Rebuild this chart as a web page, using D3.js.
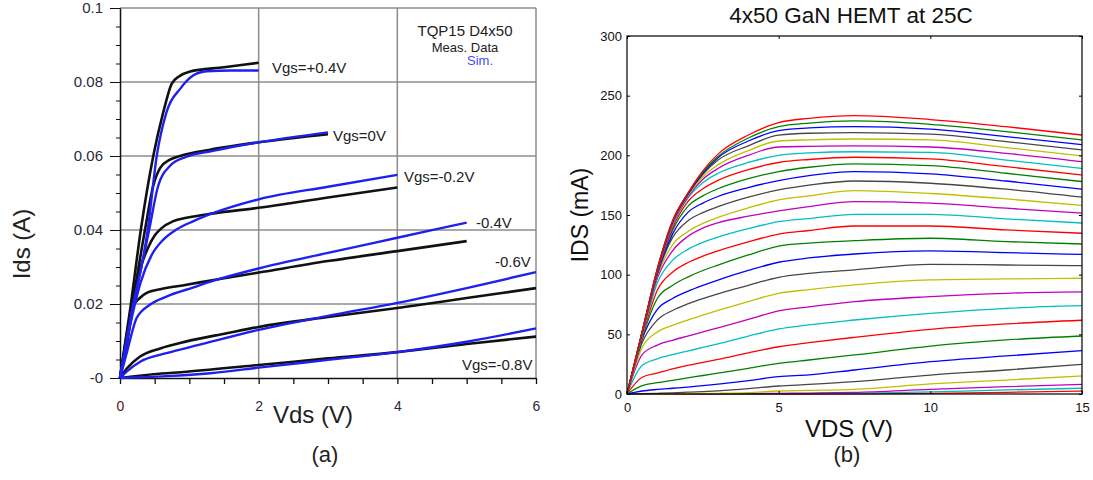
<!DOCTYPE html>
<html>
<head>
<meta charset="utf-8">
<script src="https://cdn.jsdelivr.net/npm/d3@7"></script>
<style>
body { margin: 0; background: #fff; }
text { font-family: "Liberation Sans", Arial, sans-serif; }
</style>
</head>
<body>
<svg id="chart" width="1093" height="480"></svg>
<script>
// ---------- panel (a) data : [Vds (V), Ids (A)] ----------
var measP04 = [[0,0],[0.15,0.019],[0.3,0.04],[0.48,0.06],[0.62,0.0715],[0.745,0.0795],[0.85,0.0815],[1.0,0.0828],[1.5,0.084],[2.0,0.0852]];
var simP04  = [[0,0],[0.15,0.016],[0.4,0.04],[0.53,0.06],[0.67,0.0718],[0.87,0.0782],[1.06,0.0818],[1.25,0.0829],[1.6,0.0831],[2.0,0.0831]];
var measP00 = [[0,0],[0.18,0.02],[0.36,0.04],[0.48,0.052],[0.58,0.0568],[0.72,0.059],[0.9,0.0602],[1.3,0.0617],[2,0.0637],[3,0.0659]];
var simP00  = [[0,0],[0.2,0.02],[0.42,0.04],[0.55,0.0519],[0.72,0.0573],[0.96,0.0598],[1.34,0.0614],[2,0.0637],[3,0.0664]];
var measM02 = [[0,0],[0.1,0.012],[0.25,0.027],[0.4,0.035],[0.5,0.0385],[0.6,0.0405],[0.77,0.0424],[0.96,0.0433],[1.35,0.0445],[2,0.046],[3,0.0488],[4,0.0515]];
var simM02  = [[0,0],[0.1,0.01],[0.3,0.026],[0.45,0.033],[0.625,0.0374],[0.82,0.0402],[1.06,0.0424],[1.35,0.0446],[2,0.0483],[3,0.0517],[4,0.0549]];
var measM04 = [[0,0],[0.1,0.009],[0.19,0.0194],[0.29,0.0217],[0.385,0.023],[0.58,0.024],[0.96,0.0252],[1.35,0.0265],[2,0.0285],[3,0.0316],[4,0.0343],[5,0.037]];
var simM04  = [[0,0],[0.1,0.007],[0.24,0.0162],[0.43,0.0198],[0.67,0.022],[1.06,0.0245],[1.35,0.0263],[2,0.0296],[3,0.0338],[4,0.0379],[5,0.042]];
var measM06 = [[0,0],[0.1,0.0026],[0.29,0.0058],[0.58,0.008],[0.96,0.0099],[1.54,0.0121],[2,0.0138],[3,0.0165],[4,0.0189],[5,0.0216],[6,0.0243]];
var simM06  = [[0,0],[0.1,0.0018],[0.29,0.0044],[0.67,0.0067],[1.15,0.009],[2,0.013],[3,0.0168],[4,0.0203],[5,0.0243],[6,0.0286]];
var measM08 = [[0,0],[0.48,0.001],[0.96,0.0017],[2,0.0035],[3,0.0053],[4,0.007],[5,0.0092],[6,0.0112]];
var simM08  = [[0,0],[0.67,0.0005],[1.3,0.0013],[2,0.0028],[3,0.0049],[4,0.007],[5,0.0098],[6,0.0134]];

var measCurvesA = [measP04, measP00, measM02, measM04, measM06, measM08];
var simCurvesA  = [simP04, simP00, simM02, simM04, simM06, simM08];
var curveLabelsA = ["Vgs=+0.4V", "Vgs=0V", "Vgs=-0.2V", "-0.4V", "-0.6V", "Vgs=-0.8V"];
var yTicksA = [0, 0.02, 0.04, 0.06, 0.08, 0.1];
var yTickLabelsA = ["-0", "0.02", "0.04", "0.06", "0.08", "0.1"];
var xTicksA = [0, 2, 4, 6];

// ---------- panel (b) data : Ids (mA) vs Vds (V) ----------
var vdsB = [0, 0.5, 1, 1.5, 2, 2.5, 3, 4, 5, 6, 7.5, 10, 12.5, 15];
var idsB = [
  [0,52,105,145,168,187,201,217,227.4,231,233.3,230,224,217],
  [0,52,105,145,168,186,199,214.5,224,227,228.8,226,219.9,213],
  [0,52,104,144,167,185,198,212,220.7,223,224,222,215.7,209],
  [0,52,104,144,167,184,196,208,217,218.5,219,217.7,211.5,204.5],
  [0,52,104,143,166,182,192,204,212,213,213.7,213,206.5,199.5],
  [0,52,103,142,165,180,189,200,207,207.5,207.9,207,201.7,194.7],
  [0,52,103,141,164,177,185,194,200,202,203,202.5,196,189],
  [0,52,102,139,161,172,179,188,194,196.5,198.4,197,190.5,183.6],
  [0,51,102,137,157,166,172,180.5,186.4,190,192.8,191.4,185,178],
  [0,51,101,134,152,160,165.5,173,178.8,183,186.4,184.4,178.5,171.6],
  [0,51,100,131,145,152,157,165,171,175,178.5,176.6,171.6,164.9],
  [0,50,99,125,136,143,148,156,162.6,166,170.4,168,163.5,158],
  [0,50,97,120,132,139,143.5,149,153.4,157,161.2,160,155.7,151.5],
  [0,49,93,112,121,127,131.5,138.5,144.4,147,150.6,150.6,146.7,143.3],
  [0,48,87,102,110,115.5,120,127.5,134,137,140.8,140.8,137.5,134.7],
  [0,47,80,91,98,103.5,108,116.5,124,126.5,128.5,130.5,127.7,125.7],
  [0,46,71,80,86,91,95.5,103.5,110.4,114,117.3,119.9,118.4,117],
  [0,43,62,70,75.5,80,84,91,97.8,101,104,108.7,108.1,107.5],
  [0,39,52,57.5,62,66,70,77.5,84.4,87.5,91.4,95.6,96.4,97],
  [0,33,41,45,48.5,52,55.5,62.5,69.6,73,77.4,81.6,84.4,85.5],
  [0,24,29.5,33,36,39,42,48.5,54.5,58,62,67.6,71.8,74],
  [0,14,17.5,21,24,26.5,29,34.5,39.6,43,47.5,54.2,58.7,61.8],
  [0,7,9.5,11.5,13.5,15.5,17.5,21.5,25.7,28.5,32.7,40.2,45.3,48.6],
  [0,2.5,3.8,4.8,5.8,7,8.2,11.2,14.5,16,20.1,27.1,31.9,36.3],
  [0,0.3,0.6,1,1.5,2,2.7,4.5,6.7,8,10.3,15.9,20.1,24.9],
  [0,0,0,0.1,0.2,0.4,0.6,1.2,2.5,3,3.9,8.4,11.7,15.1],
  [0,0,0,0,0,0,0.1,0.3,0.6,0.8,1.4,3.9,6.1,8.1],
  [0,0,0,0,0,0,0,0,0.2,0.3,0.6,1.7,3.4,4.8],
  [0,0,0,0,0,0,0,0,0,0,0.1,0.6,1.4,2.5]
];
var xTicksB = [0, 5, 10, 15];
var yTicksB = [0, 50, 100, 150, 200, 250, 300];
var colorCycleB = ["#ff0000", "#008000", "#0000ff", "#474747", "#bfbf00", "#bf00bf", "#00bfbf"];

var svg = d3.select("#chart");
svg.append("rect").attr("width", 1093).attr("height", 480).attr("fill", "#fff");

// ================= panel (a) =================
var xA = d3.scaleLinear().domain([0, 6]).range([120, 536]);
var yA = d3.scaleLinear().domain([0, 0.1]).range([378, 8]);
var gA = svg.append("g");

gA.selectAll(".vgrid").data([2, 4, 6]).enter().append("line")
  .attr("x1", function (d) { return xA(d); })
  .attr("x2", function (d) { return xA(d); })
  .attr("y1", yA(0)).attr("y2", yA(0.1))
  .attr("stroke", "#8c8c8c").attr("stroke-width", 1.5);
gA.selectAll(".hgrid").data(yTicksA.slice(1)).enter().append("line")
  .attr("x1", xA(0)).attr("x2", xA(6))
  .attr("y1", function (d) { return yA(d); })
  .attr("y2", function (d) { return yA(d); })
  .attr("stroke", "#8c8c8c").attr("stroke-width", 1.5);

// y axis (minor + major)
gA.append("g").attr("transform", "translate(120,0)")
  .call(d3.axisLeft(yA).tickValues(d3.range(0, 0.1001, 0.005)).tickSize(4).tickSizeOuter(0).tickFormat(""))
  .attr("color", "#111");
var yAxA = gA.append("g").attr("transform", "translate(120,0)")
  .call(d3.axisLeft(yA).tickValues(yTicksA).tickSize(10).tickSizeOuter(0).tickPadding(7)
    .tickFormat(function (d, i) { return yTickLabelsA[i]; }))
  .attr("color", "#111");
yAxA.selectAll("path").attr("stroke-width", 1.5);
yAxA.selectAll("text").attr("font-size", 15).attr("font-family", "'Liberation Sans', Arial, sans-serif").attr("fill", "#2a2a3a");

// x axis
var xAxA = gA.append("g").attr("transform", "translate(0,378)")
  .call(d3.axisBottom(xA).tickValues(d3.range(0, 6.001, 0.5)).tickSize(6).tickSizeOuter(0).tickPadding(17)
    .tickFormat(function (d) { return xTicksA.indexOf(d) >= 0 ? String(d) : ""; }))
  .attr("color", "#111");
xAxA.selectAll("path").attr("stroke-width", 1.5);
xAxA.selectAll("line").attr("stroke-width", 1.3);
xAxA.selectAll("text").attr("font-size", 14).attr("font-family", "'Liberation Sans', Arial, sans-serif").attr("fill", "#2a2a3a");
xAxA.selectAll("text").filter(function (d) { return d === 0; }).attr("fill", "#5a1010");

var lineA = d3.line()
  .x(function (d) { return xA(d[0]); })
  .y(function (d) { return yA(d[1]); })
  .curve(d3.curveMonotoneX);

gA.selectAll(".meas").data(measCurvesA).enter().append("path")
  .attr("d", lineA).attr("fill", "none").attr("stroke", "#111").attr("stroke-width", 2.6);
gA.selectAll(".sim").data(simCurvesA).enter().append("path")
  .attr("d", lineA).attr("fill", "none").attr("stroke", "#1f1ff0").attr("stroke-width", 2.4);

// curve labels
var labelPosA = [[272, 73], [333, 141], [404, 182], [476, 228], [495, 267], [462, 370]];
gA.selectAll(".clab").data(curveLabelsA).enter().append("text")
  .attr("x", function (d, i) { return labelPosA[i][0]; })
  .attr("y", function (d, i) { return labelPosA[i][1]; })
  .attr("font-size", 15).attr("fill", "#222")
  .text(function (d) { return d; });

// legend
gA.append("text").attr("x", 465).attr("y", 36).attr("text-anchor", "middle")
  .attr("font-size", 15).attr("fill", "#222").text("TQP15 D4x50");
gA.append("text").attr("x", 465).attr("y", 52).attr("text-anchor", "middle")
  .attr("font-size", 13).attr("fill", "#222").text("Meas. Data");
gA.append("text").attr("x", 467).attr("y", 65)
  .attr("font-size", 13).attr("fill", "#4a4aff").text("Sim.");

// axis titles
gA.append("text").attr("transform", "translate(30,244) rotate(-90)").attr("text-anchor", "middle")
  .attr("font-size", 24).attr("fill", "#222").text("Ids (A)");
gA.append("text").attr("x", 273).attr("y", 423)
  .attr("font-size", 24).attr("fill", "#222").text("Vds (V)");
gA.append("text").attr("x", 325).attr("y", 462).attr("text-anchor", "middle")
  .attr("font-family", "'Liberation Serif', 'Times New Roman', serif")
  .attr("font-size", 22).attr("fill", "#222").text("(a)");

// ================= panel (b) =================
var xB = d3.scaleLinear().domain([0, 15]).range([627, 1082]);
var yB = d3.scaleLinear().domain([0, 300]).range([394, 36]);
var gB = svg.append("g");

var lineB = d3.line()
  .x(function (d, i) { return xB(vdsB[i]); })
  .y(function (d) { return yB(d); })
  .curve(d3.curveMonotoneX);

var rowsB = idsB.map(function (r, i) { return { v: r, c: colorCycleB[i % colorCycleB.length] }; }).reverse();
gB.selectAll(".ivc").data(rowsB).enter().append("path")
  .attr("d", function (d) { return lineB(d.v); })
  .attr("fill", "none")
  .attr("stroke", function (d) { return d.c; })
  .attr("stroke-width", 1.3);

gB.append("rect").attr("x", xB(0)).attr("y", yB(300))
  .attr("width", xB(15) - xB(0)).attr("height", yB(0) - yB(300))
  .attr("fill", "none").attr("stroke", "#000").attr("stroke-width", 1.2);

function styleB(sel) {
  sel.attr("color", "#000");
  sel.select(".domain").remove();
  sel.selectAll("text").attr("font-size", 13).attr("font-family", "'Liberation Sans', Arial, sans-serif").attr("fill", "#111");
}
gB.append("g").attr("transform", "translate(0,394)")
  .call(d3.axisBottom(xB).tickValues(xTicksB).tickSize(-3).tickPadding(9)).call(styleB);
gB.append("g").attr("transform", "translate(627,0)")
  .call(d3.axisLeft(yB).tickValues(yTicksB).tickSize(-3).tickPadding(5)).call(styleB);
gB.append("g").attr("transform", "translate(0,36)")
  .call(d3.axisTop(xB).tickValues(xTicksB).tickSize(-3).tickFormat("")).call(styleB);
gB.append("g").attr("transform", "translate(1082,0)")
  .call(d3.axisRight(yB).tickValues(yTicksB).tickSize(-3).tickFormat("")).call(styleB);

gB.append("text").attr("x", 851).attr("y", 23).attr("text-anchor", "middle")
  .attr("font-size", 22.5).attr("fill", "#111").text("4x50 GaN HEMT at 25C");
gB.append("text").attr("x", 849).attr("y", 437).attr("text-anchor", "middle")
  .attr("font-size", 24).attr("fill", "#111").text("VDS (V)");
gB.append("text").attr("transform", "translate(588,215) rotate(-90)").attr("text-anchor", "middle")
  .attr("font-size", 23).attr("fill", "#111").text("IDS (mA)");
gB.append("text").attr("x", 847).attr("y", 462).attr("text-anchor", "middle")
  .attr("font-family", "'Liberation Serif', 'Times New Roman', serif")
  .attr("font-size", 22).attr("fill", "#222").text("(b)");
</script>
</body>
</html>
